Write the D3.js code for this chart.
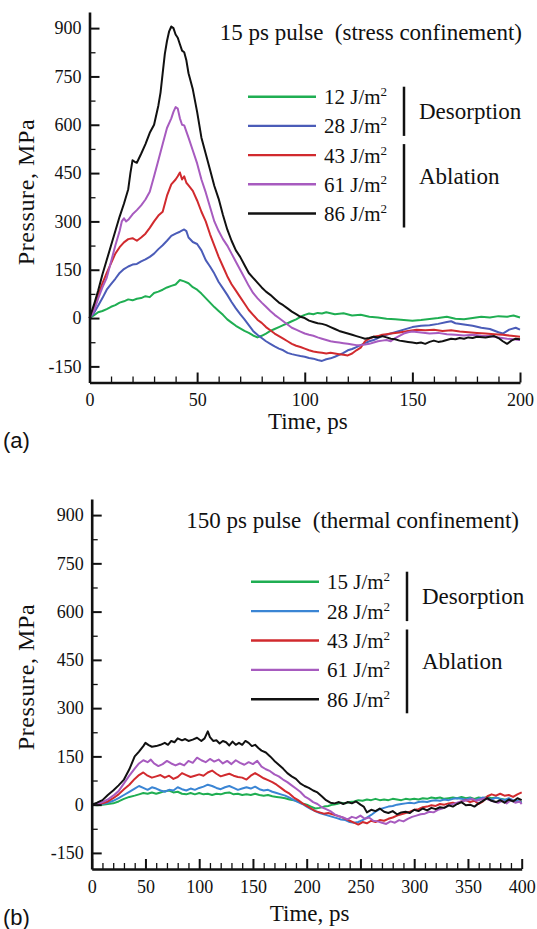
<!DOCTYPE html>
<html><head><meta charset="utf-8">
<script src="https://cdn.jsdelivr.net/npm/d3@7"></script>
<style>
html,body{margin:0;padding:0;background:#fff;}
svg{display:block;}
svg text, svg tspan{font-family:"Liberation Serif","Times New Roman",serif;fill:#111;}
svg text.sans{font-family:"Liberation Sans",Arial,sans-serif;}
</style></head>
<body>
<svg id="chart" width="537" height="929"></svg>
<script>
// ---------------- DATA ----------------
const fluencesA = ["12", "28", "43", "61", "86"];
const fluencesB = ["15", "28", "43", "61", "86"];
const colorsA = ["#1fae52", "#4b5cb8", "#d12a2e", "#a75bbf", "#111111"];
const colorsB = ["#1fae52", "#3a85d4", "#d12a2e", "#a75bbf", "#111111"];
const groupLabels = ["Desorption", "Ablation"];
const titleA = "15 ps pulse  (stress confinement)";
const titleB = "150 ps pulse  (thermal confinement)";
const yTicks = [-150, 0, 150, 300, 450, 600, 750, 900];
const xTicksA = [0, 50, 100, 150, 200];
const xTicksB = [0, 50, 100, 150, 200, 250, 300, 350, 400];

// Panel (a): [time ps, pressure MPa]
const a12 = [[0,0],[2,8],[4,18],[6,22],[8,28],[10,35],[12,40],[14,48],[16,52],[18,58],[20,55],[22,60],[24,62],[26,68],[28,65],[30,78],[32,82],[34,88],[36,95],[38,100],[40,104],[42,118],[44,114],[46,108],[48,96],[50,88],[52,76],[54,62],[56,48],[58,34],[60,22],[62,10],[64,-4],[66,-14],[68,-24],[70,-32],[72,-40],[74,-46],[76,-54],[78,-60],[80,-55],[82,-48],[84,-40],[86,-34],[88,-28],[90,-22],[92,-16],[94,-10],[96,-4],[98,4],[100,10],[102,14],[104,12],[106,16],[108,14],[110,18],[114,12],[118,15],[122,8],[126,10],[130,4],[134,2],[138,-2],[142,-4],[146,-6],[150,-8],[154,-6],[158,-3],[162,0],[166,4],[170,-2],[174,-4],[178,0],[182,4],[186,2],[190,6],[194,4],[197,8],[200,2]];
const a28 = [[0,0],[2,15],[4,38],[6,62],[8,88],[10,105],[12,122],[14,140],[16,152],[18,160],[20,166],[22,168],[24,176],[26,182],[28,190],[30,200],[32,214],[34,226],[36,240],[38,255],[40,262],[42,268],[44,275],[45,270],[46,250],[48,236],[50,230],[52,210],[54,180],[56,160],[58,138],[60,112],[62,92],[64,72],[66,50],[68,30],[70,12],[72,-4],[74,-22],[76,-40],[78,-52],[80,-62],[82,-72],[84,-80],[86,-88],[88,-95],[90,-100],[92,-108],[94,-112],[96,-115],[98,-118],[100,-120],[102,-124],[104,-126],[106,-130],[108,-133],[110,-128],[112,-125],[114,-120],[116,-114],[118,-108],[120,-100],[122,-96],[124,-90],[126,-84],[128,-78],[130,-72],[132,-68],[134,-62],[136,-56],[138,-52],[140,-48],[142,-44],[144,-40],[146,-36],[148,-32],[150,-28],[154,-24],[158,-22],[162,-18],[166,-12],[168,-10],[170,-16],[174,-20],[178,-24],[182,-30],[186,-34],[190,-44],[192,-48],[195,-36],[198,-30],[200,-36]];
const a43 = [[0,0],[2,30],[4,70],[6,108],[8,140],[10,170],[12,200],[14,220],[16,235],[18,245],[20,248],[22,240],[24,250],[26,262],[28,280],[30,300],[32,318],[34,330],[36,380],[38,415],[40,430],[41,440],[42,452],[43,430],[44,440],[45,420],[46,412],[48,395],[50,365],[52,330],[54,300],[56,260],[58,225],[60,190],[62,160],[64,130],[66,105],[68,85],[70,65],[72,45],[74,25],[76,10],[78,-5],[80,-15],[82,-28],[84,-38],[86,-48],[88,-56],[90,-64],[92,-72],[94,-80],[96,-86],[98,-90],[100,-95],[102,-100],[104,-104],[106,-106],[108,-108],[110,-110],[112,-108],[114,-110],[116,-112],[118,-114],[120,-116],[122,-110],[124,-100],[126,-92],[128,-72],[130,-64],[132,-58],[134,-56],[136,-52],[138,-50],[140,-48],[144,-45],[148,-40],[152,-36],[156,-38],[160,-36],[164,-40],[168,-38],[172,-42],[176,-44],[180,-46],[184,-48],[188,-50],[192,-52],[196,-55],[200,-58]];
const a61 = [[0,0],[2,20],[4,60],[6,95],[8,125],[10,175],[12,225],[14,270],[15,300],[16,310],[17,300],[18,305],[20,322],[22,335],[24,350],[26,368],[28,392],[30,440],[32,490],[34,540],[36,590],[38,620],[39,640],[40,655],[41,650],[42,620],[43,600],[44,598],[46,560],[48,520],[50,480],[52,430],[54,390],[56,345],[58,300],[60,270],[62,245],[64,225],[66,200],[68,175],[70,150],[72,125],[74,100],[76,78],[78,62],[80,48],[82,35],[84,22],[86,10],[88,0],[90,-10],[92,-20],[94,-30],[96,-36],[98,-42],[100,-48],[102,-52],[104,-55],[106,-60],[108,-64],[110,-68],[112,-72],[114,-74],[116,-76],[118,-78],[120,-80],[122,-82],[124,-84],[126,-84],[128,-82],[130,-80],[132,-76],[134,-72],[136,-70],[138,-68],[140,-72],[142,-62],[144,-55],[146,-48],[148,-44],[150,-42],[154,-45],[158,-48],[162,-46],[166,-50],[170,-52],[174,-54],[178,-52],[182,-55],[186,-56],[190,-60],[194,-64],[197,-66],[200,-68]];
const a86 = [[0,0],[2,40],[4,85],[6,135],[8,180],[10,225],[12,270],[14,315],[16,355],[18,400],[19,450],[20,490],[21,485],[22,482],[24,510],[26,540],[28,575],[30,600],[32,660],[33,700],[34,760],[35,820],[36,860],[37,890],[38,905],[39,900],[40,880],[41,870],[42,850],[43,830],[44,825],[45,800],[46,760],[48,710],[50,640],[52,560],[54,510],[56,460],[58,410],[60,370],[62,320],[64,275],[66,240],[68,210],[70,190],[72,165],[74,140],[76,125],[78,110],[80,95],[82,82],[84,72],[86,60],[88,48],[90,40],[92,30],[94,20],[96,12],[98,4],[100,0],[102,-8],[104,-12],[106,-16],[108,-18],[110,-22],[112,-28],[114,-34],[116,-40],[118,-44],[120,-48],[122,-52],[124,-56],[126,-60],[128,-64],[130,-62],[132,-58],[134,-60],[136,-56],[138,-60],[140,-64],[142,-66],[144,-70],[146,-72],[148,-74],[150,-76],[152,-78],[154,-76],[156,-80],[158,-74],[160,-70],[162,-74],[164,-72],[166,-68],[168,-64],[170,-66],[172,-62],[174,-64],[176,-60],[178,-62],[180,-58],[184,-60],[188,-56],[190,-62],[192,-72],[194,-80],[196,-70],[198,-64],[200,-66]];

// Panel (b)
const b15 = [[0,0],[5,-2],[10,0],[15,2],[20,4],[25,10],[30,18],[35,24],[40,28],[44,32],[48,36],[52,34],[56,38],[60,34],[64,38],[68,42],[72,44],[76,38],[80,40],[84,34],[88,32],[92,36],[96,32],[100,36],[104,32],[108,34],[112,30],[116,34],[120,32],[124,36],[128,38],[132,32],[136,34],[140,30],[144,32],[148,30],[152,34],[156,30],[160,28],[164,30],[168,26],[172,24],[176,22],[180,20],[184,16],[188,14],[192,10],[196,4],[200,0],[204,-6],[208,-12],[212,-10],[216,-6],[220,-4],[224,0],[228,2],[232,6],[236,4],[240,8],[244,10],[248,14],[252,12],[256,16],[260,14],[264,18],[268,14],[272,16],[276,14],[280,18],[284,16],[288,14],[292,18],[296,16],[300,18],[304,16],[308,20],[312,18],[316,22],[320,20],[324,22],[328,18],[332,20],[336,22],[340,20],[344,24],[348,20],[352,22],[356,18],[360,22],[364,20],[368,24],[372,20],[376,22],[380,18],[384,16],[388,14],[392,12],[396,10],[400,8]];
const b28 = [[0,0],[5,0],[10,2],[15,6],[20,12],[25,20],[30,30],[35,40],[40,50],[44,58],[48,52],[52,46],[56,54],[60,50],[64,44],[68,40],[72,46],[76,44],[80,54],[84,48],[88,44],[92,50],[96,46],[100,52],[104,56],[108,62],[112,58],[116,52],[120,48],[124,54],[128,58],[132,52],[136,46],[140,50],[144,54],[148,50],[152,56],[156,48],[160,44],[164,46],[168,40],[172,36],[176,32],[180,28],[184,22],[188,14],[192,8],[196,2],[200,-6],[204,-14],[208,-20],[212,-26],[216,-30],[220,-34],[224,-38],[228,-42],[232,-46],[236,-48],[240,-54],[244,-56],[248,-54],[252,-48],[256,-40],[260,-32],[264,-22],[268,-14],[272,-10],[276,-6],[280,-4],[284,0],[288,2],[292,4],[296,6],[300,4],[304,8],[308,10],[312,8],[316,12],[320,14],[324,12],[328,16],[332,14],[336,18],[340,20],[344,18],[348,16],[352,20],[356,14],[360,18],[364,22],[368,20],[372,16],[376,22],[380,18],[384,14],[388,20],[392,14],[396,12],[400,6]];
const b43 = [[0,0],[5,1],[10,4],[15,10],[20,20],[25,32],[30,48],[35,62],[40,80],[44,92],[48,100],[52,90],[56,84],[60,88],[64,92],[68,84],[72,90],[76,80],[80,86],[84,98],[88,92],[92,86],[96,90],[100,94],[104,90],[108,100],[112,106],[116,96],[120,88],[124,92],[128,96],[132,90],[136,86],[140,84],[144,78],[148,90],[152,98],[156,90],[160,82],[164,76],[168,70],[172,62],[176,52],[180,42],[184,34],[188,22],[192,14],[196,4],[200,-4],[204,-12],[208,-20],[212,-24],[216,-28],[220,-26],[224,-30],[228,-34],[232,-38],[236,-44],[240,-50],[244,-56],[248,-62],[252,-54],[256,-58],[260,-50],[264,-54],[268,-48],[272,-50],[276,-44],[280,-40],[284,-34],[288,-30],[292,-26],[296,-22],[300,-16],[304,-14],[308,-8],[312,-6],[316,-2],[320,-4],[324,2],[328,0],[332,4],[336,6],[340,2],[344,10],[348,14],[352,8],[356,12],[360,2],[364,10],[368,26],[372,32],[376,28],[380,34],[384,28],[388,30],[392,24],[396,32],[400,38]];
const b61 = [[0,0],[5,2],[10,8],[15,16],[20,28],[25,42],[30,66],[35,90],[40,112],[44,128],[48,138],[52,132],[55,140],[58,128],[62,120],[66,126],[70,136],[74,128],[78,122],[82,128],[86,122],[90,136],[94,130],[98,146],[102,138],[106,132],[110,142],[114,134],[118,140],[122,128],[126,136],[130,126],[134,138],[138,130],[142,124],[146,132],[150,126],[154,136],[158,118],[162,110],[166,104],[170,94],[174,88],[178,78],[182,70],[186,60],[190,50],[194,40],[198,26],[202,18],[206,8],[210,2],[214,-8],[218,-14],[222,-20],[226,-30],[230,-36],[234,-40],[238,-46],[242,-38],[246,-42],[250,-34],[254,-44],[258,-40],[262,-50],[266,-52],[270,-56],[274,-60],[278,-52],[282,-56],[286,-48],[290,-52],[294,-44],[298,-38],[302,-34],[306,-30],[310,-28],[314,-22],[318,-24],[322,-16],[326,-12],[330,-6],[334,0],[338,4],[342,8],[346,12],[350,14],[354,18],[358,12],[362,16],[366,20],[370,14],[374,10],[378,6],[382,12],[386,4],[390,14],[394,6],[398,10],[400,2]];
const b86 = [[0,0],[5,6],[10,14],[15,30],[20,44],[25,60],[30,78],[35,110],[40,150],[44,165],[48,182],[50,192],[53,185],[56,180],[60,182],[64,186],[68,192],[71,186],[74,198],[77,194],[80,206],[84,200],[87,204],[90,198],[94,202],[98,208],[102,198],[105,206],[108,228],[110,210],[113,198],[116,200],[119,190],[122,198],[125,194],[128,184],[131,196],[134,186],[137,192],[140,186],[143,198],[146,192],[149,182],[152,186],[155,176],[158,168],[162,162],[166,150],[170,136],[174,124],[178,112],[182,98],[186,88],[190,80],[194,66],[198,58],[202,52],[206,44],[210,38],[214,26],[218,14],[222,6],[226,4],[230,8],[234,2],[238,8],[242,4],[246,10],[250,0],[253,-6],[256,-24],[260,-16],[264,-20],[268,-12],[272,-22],[276,-26],[280,-20],[284,-30],[288,-24],[292,-22],[296,-26],[300,-16],[304,-20],[308,-12],[312,-18],[316,-10],[320,-14],[324,-8],[328,-10],[332,-2],[336,-6],[340,2],[344,8],[348,-2],[352,0],[356,-6],[360,4],[364,12],[368,20],[372,12],[376,8],[380,14],[384,6],[388,16],[392,10],[396,20],[400,14]];

const seriesA = [a12, a28, a43, a61, a86];
const seriesB = [b15, b28, b43, b61, b86];

// ---------------- DRAW ----------------
const SERIF = "'Liberation Serif','Times New Roman',serif";
const svg = d3.select("#chart");

function panel(cfg) {
  const x = d3.scaleLinear().domain(cfg.xDomain).range([cfg.left, cfg.right]);
  const y = d3.scaleLinear().domain([-200, 950]).range([cfg.bottom, cfg.top]);
  const g = svg.append("g");

  // minor ticks
  const yMinor = d3.range(-150, 950, 75).filter(v => v % 150 !== 0);
  g.append("g").attr("transform", `translate(${cfg.left},0)`)
    .call(d3.axisLeft(y).tickValues(yMinor).tickSize(-6).tickSizeOuter(0).tickFormat(""))
    .call(s => s.select(".domain").remove())
    .call(s => s.selectAll("line").attr("stroke", "#111").attr("stroke-width", 1.3));
  const xMinor = d3.range(cfg.xDomain[0], cfg.xDomain[1] + 1, 10).filter(v => v % 50 !== 0);
  g.append("g").attr("transform", `translate(0,${cfg.bottom})`)
    .call(d3.axisBottom(x).tickValues(xMinor).tickSize(-6).tickSizeOuter(0).tickFormat(""))
    .call(s => s.select(".domain").remove())
    .call(s => s.selectAll("line").attr("stroke", "#111").attr("stroke-width", 1.3));

  // curves
  const line = d3.line().x(d => x(d[0])).y(d => y(d[1]));
  g.append("g").selectAll("path").data(cfg.series).join("path")
    .attr("d", line).attr("fill", "none")
    .attr("stroke", (d, i) => cfg.colors[i]).attr("stroke-width", 2)
    .attr("stroke-linejoin", "round");

  // major axes
  const ya = g.append("g").attr("transform", `translate(${cfg.left},0)`)
    .call(d3.axisLeft(y).tickValues(yTicks).tickSize(-10).tickSizeOuter(0).tickPadding(8).tickFormat(d3.format("d")));
  const xa = g.append("g").attr("transform", `translate(0,${cfg.bottom})`)
    .call(d3.axisBottom(x).tickValues(cfg.xTicks).tickSize(-10).tickSizeOuter(0).tickPadding(11).tickFormat(d3.format("d")));
  [ya, xa].forEach(a => {
    a.attr("font-family", null);
    a.select(".domain").attr("stroke", "#111").attr("stroke-width", 2.6);
    a.selectAll(".tick line").attr("stroke", "#111").attr("stroke-width", 2);
    a.selectAll("text").style("font-family", SERIF).style("font-size", "18px").attr("fill", "#111");
  });
  ya.selectAll("text").text(d => d < 0 ? "-" + Math.abs(d) : d);

  // axis titles
  g.append("text").attr("transform", `translate(${cfg.yTitleX},${cfg.yTitleY}) rotate(-90)`)
    .attr("text-anchor", "middle").style("font-family", SERIF).style("font-size", "24px")
    .style("letter-spacing", "0.6px").text("Pressure, MPa");
  g.append("text").attr("x", (cfg.left + cfg.right) / 2 + 3).attr("y", cfg.xTitleY)
    .attr("text-anchor", "middle").style("font-family", SERIF).style("font-size", "23px").text("Time, ps");

  // panel title
  g.append("text").attr("x", cfg.titleX).attr("y", cfg.titleY).attr("text-anchor", "end")
    .style("font-family", SERIF).style("font-size", "23px").style("white-space", "pre").text(cfg.title);

  // panel letter
  g.append("text").attr("class", "sans").attr("x", 3).attr("y", cfg.letterY)
    .style("font-family", "'Liberation Sans',Arial,sans-serif").style("font-size", "22px").text(cfg.letter);

  // legend
  const ly = d3.scalePoint().domain(d3.range(5)).range([cfg.legTop, cfg.legTop + 4 * cfg.legStep]);
  const leg = g.append("g");
  cfg.fluences.forEach((f, i) => {
    leg.append("line").attr("x1", cfg.legX).attr("x2", cfg.legX + 68)
      .attr("y1", ly(i)).attr("y2", ly(i)).attr("stroke", cfg.colors[i]).attr("stroke-width", 2.4);
    const t = leg.append("text").attr("x", cfg.legX + 76).attr("y", ly(i) + 7.5)
      .style("font-family", SERIF).style("font-size", "21px");
    t.append("tspan").style("font-family", SERIF).text(f + " J/m");
    t.append("tspan").attr("dy", -8).style("font-family", SERIF).style("font-size", "13px").text("2");
  });
  const bx = cfg.legX + 156;
  leg.append("line").attr("x1", bx).attr("x2", bx)
    .attr("y1", ly(0) - 10).attr("y2", ly(1) + 10).attr("stroke", "#111").attr("stroke-width", 2.5);
  leg.append("line").attr("x1", bx).attr("x2", bx)
    .attr("y1", ly(2) - 11).attr("y2", ly(4) + 14).attr("stroke", "#111").attr("stroke-width", 2.5);
  leg.append("text").attr("x", bx + 15).attr("y", (ly(0) + ly(1)) / 2 + 7.5)
    .style("font-family", SERIF).style("font-size", "23px").text(groupLabels[0]);
  leg.append("text").attr("x", bx + 15).attr("y", ly(3) - 0.5)
    .style("font-family", SERIF).style("font-size", "23px").text(groupLabels[1]);
}

panel({
  left: 89.5, right: 520, top: 12, bottom: 382.5, xDomain: [0, 200], xTicks: xTicksA,
  series: seriesA, colors: colorsA, fluences: fluencesA,
  yTitleX: 34, yTitleY: 192, xTitleY: 429, title: titleA, titleX: 522, titleY: 40,
  letter: "(a)", letterY: 448, legX: 248, legTop: 96.7, legStep: 29.2
});
panel({
  left: 91.7, right: 521.7, top: 499, bottom: 869, xDomain: [0, 400], xTicks: xTicksB,
  series: seriesB, colors: colorsB, fluences: fluencesB,
  yTitleX: 34, yTitleY: 677, xTitleY: 921, title: titleB, titleX: 519, titleY: 528,
  letter: "(b)", letterY: 925, legX: 251, legTop: 581.7, legStep: 29.4
});
</script>
</body></html>
